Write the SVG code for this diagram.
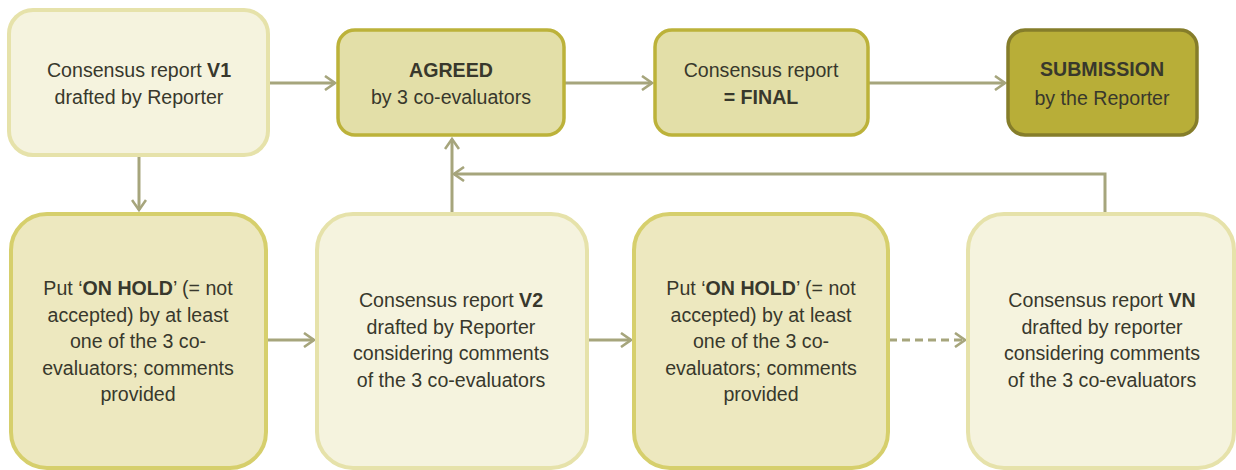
<svg xmlns="http://www.w3.org/2000/svg" width="1236" height="470" viewBox="0 0 1236 470">
<style>
text{font-family:"Liberation Sans",Arial,sans-serif;font-size:19.6px;fill:#38382c;text-anchor:middle}
.b{font-weight:bold}
.pale{fill:#f5f3de;stroke:#e6e2aa;stroke-width:4}
.hold{fill:#ede8bf;stroke:#d6cf6c;stroke-width:4}
.mid{fill:#e3dfa8;stroke:#bcb23a;stroke-width:3.5}
.sub{fill:#b8ae38;stroke:#857d2a;stroke-width:3.5}
.c{fill:none;stroke:#a6a57c;stroke-width:3}
</style>
<defs>
<marker id="arr" viewBox="0 0 14 16" refX="12" refY="8" markerWidth="14" markerHeight="16" markerUnits="userSpaceOnUse" orient="auto">
<path d="M2,1 L12,8 L2,15" fill="none" stroke="#a6a57c" stroke-width="2.6"/>
</marker>
</defs>
<g id="connectors">
<path class="c" d="M269,83 H335" marker-end="url(#arr)"/>
<path class="c" d="M565,83 H652" marker-end="url(#arr)"/>
<path class="c" d="M869,83 H1005" marker-end="url(#arr)"/>
<path class="c" d="M139,156 V210" marker-end="url(#arr)"/>
<path class="c" d="M452,213 V139" marker-end="url(#arr)"/>
<path class="c" d="M1105,213 V174 H454" marker-end="url(#arr)"/>
<path class="c" d="M267,340 H314" marker-end="url(#arr)"/>
<path class="c" d="M588,340 H631" marker-end="url(#arr)"/>
<path class="c" d="M889,340 H965" stroke-dasharray="8,5" marker-end="url(#arr)"/>
</g>
<g id="n-v1">
<rect class="pale" x="9" y="10" width="259" height="145" rx="24"/>
<text x="139" y="77">Consensus report <tspan class="b">V1</tspan></text>
<text x="139" y="104">drafted by Reporter</text>
</g>
<g id="n-agreed">
<rect class="mid" x="338" y="30" width="226" height="105" rx="17"/>
<text x="451" y="77" class="b">AGREED</text>
<text x="451" y="104">by 3 co-evaluators</text>
</g>
<g id="n-final">
<rect class="mid" x="655" y="30" width="213" height="105" rx="17"/>
<text x="761" y="77">Consensus report</text>
<text x="761" y="104" class="b">= FINAL</text>
</g>
<g id="n-submission">
<rect class="sub" x="1008" y="30" width="189" height="105" rx="17"/>
<text x="1102" y="76" class="b">SUBMISSION</text>
<text x="1102" y="105">by the Reporter</text>
</g>
<g id="n-hold1">
<rect class="hold" x="11" y="214" width="255" height="254" rx="36"/>
<text x="138" y="295">Put ‘<tspan class="b">ON HOLD</tspan>’ (= not</text>
<text x="138" y="322">accepted) by at least</text>
<text x="138" y="348">one of the 3 co-</text>
<text x="138" y="375">evaluators; comments</text>
<text x="138" y="401">provided</text>
</g>
<g id="n-v2">
<rect class="pale" x="317" y="214" width="270" height="254" rx="36"/>
<text x="451" y="307">Consensus report <tspan class="b">V2</tspan></text>
<text x="451" y="334">drafted by Reporter</text>
<text x="451" y="360">considering comments</text>
<text x="451" y="387">of the 3 co-evaluators</text>
</g>
<g id="n-hold2">
<rect class="hold" x="634" y="214" width="254" height="254" rx="36"/>
<text x="761" y="295">Put ‘<tspan class="b">ON HOLD</tspan>’ (= not</text>
<text x="761" y="322">accepted) by at least</text>
<text x="761" y="348">one of the 3 co-</text>
<text x="761" y="375">evaluators; comments</text>
<text x="761" y="401">provided</text>
</g>
<g id="n-vn">
<rect class="pale" x="968" y="214" width="266" height="254" rx="36"/>
<text x="1102" y="307">Consensus report <tspan class="b">VN</tspan></text>
<text x="1102" y="334">drafted by reporter</text>
<text x="1102" y="360">considering comments</text>
<text x="1102" y="387">of the 3 co-evaluators</text>
</g>
</svg>
